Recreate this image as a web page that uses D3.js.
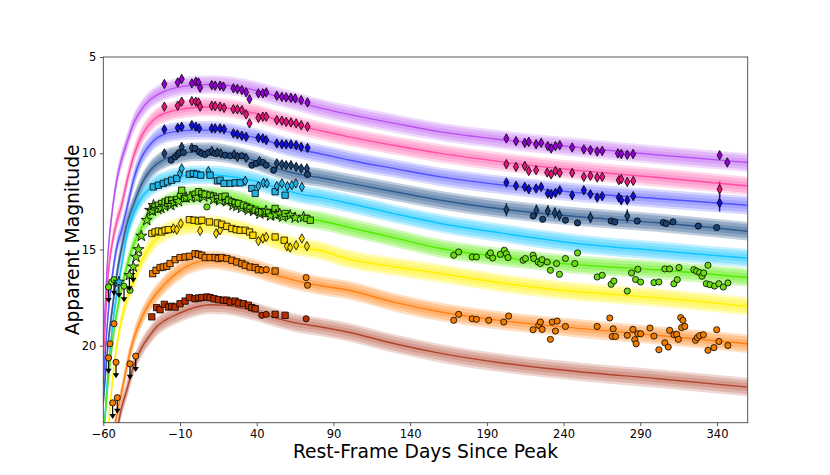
<!DOCTYPE html>
<html>
<head>
<meta charset="utf-8">
<script src="https://cdn.jsdelivr.net/npm/d3@7"></script>
<style>
  body { margin: 0; background: #fff; }
  text { font-family: "DejaVu Sans", sans-serif; }
</style>
</head>
<body>
<svg id="chart" width="830" height="475"></svg>
<script>
// model light curves, sampled on a shared grid of rest-frame days
const modelDays = [-60, -57, -54, -51, -48, -45, -40, -35, -30, -25, -20, -10, 0, 10, 20, 30, 40, 50, 60, 70, 80, 100, 130, 160, 200, 250, 300, 360];
const modelUVW2 = [20, 15.3, 12.9, 11.3, 10.3, 9.55, 8.4, 7.72, 7.25, 6.97, 6.77, 6.55, 6.46, 6.43, 6.47, 6.58, 6.75, 6.97, 7.18, 7.4, 7.62, 7.98, 8.45, 8.89, 9.3, 9.7, 10.08, 10.48];
const modelUVM2 = [21, 16.5, 14.6, 13.5, 12.7, 11.6, 10.1, 9.1, 8.5, 8.12, 7.93, 7.72, 7.62, 7.6, 7.65, 7.78, 7.95, 8.18, 8.4, 8.62, 8.8, 9.15, 9.6, 10.01, 10.45, 10.9, 11.25, 11.7];
const modelUVW1 = [22, 18.5, 16.3, 14.8, 14.0, 13.0, 11.3, 10.2, 9.6, 9.2, 9.0, 8.85, 8.8, 8.8, 8.88, 9.03, 9.2, 9.43, 9.65, 9.85, 10.0, 10.35, 10.8, 11.23, 11.65, 12.05, 12.35, 12.7];
const modelU = [23, 20, 18, 16.2, 14.9, 13.8, 12.6, 11.6, 10.95, 10.55, 10.3, 10.05, 9.92, 9.92, 10.02, 10.2, 10.42, 10.7, 10.95, 11.13, 11.25, 11.55, 12.0, 12.44, 12.9, 13.3, 13.6, 14.05];
const modelB = [25, 21.5, 19.0, 17.2, 15.8, 14.4, 13.1, 12.3, 11.85, 11.55, 11.4, 11.2, 11.12, 11.12, 11.18, 11.3, 11.47, 11.72, 11.95, 12.15, 12.27, 12.6, 13.15, 13.65, 14.15, 14.7, 15.05, 15.45];
const modelG = [25, 22, 19.8, 18.2, 17.0, 16.0, 14.7, 13.85, 13.3, 12.9, 12.65, 12.32, 12.2, 12.22, 12.3, 12.48, 12.73, 13.0, 13.22, 13.38, 13.48, 13.85, 14.4, 14.95, 15.4, 15.8, 16.05, 16.45];
const modelV = [28, 24.5, 21.8, 19.9, 18.6, 17.7, 16.6, 15.6, 14.9, 14.4, 14.1, 13.82, 13.72, 13.72, 13.8, 13.97, 14.2, 14.45, 14.72, 14.9, 15.03, 15.5, 15.9, 16.25, 16.75, 17.2, 17.5, 17.95];
const modelR = [30, 27, 25, 23.5, 22.4, 21.2, 19.6, 18.55, 17.8, 17.25, 16.8, 16.1, 15.68, 15.55, 15.62, 15.8, 16.0, 16.28, 16.5, 16.7, 16.86, 17.12, 17.75, 18.25, 18.7, 19.1, 19.45, 19.9];
const modelI = [33, 30, 27, 24.5, 23.2, 22.4, 21.0, 20.1, 19.5, 19.0, 18.7, 18.3, 18.0, 17.87, 17.9, 18.05, 18.25, 18.5, 18.72, 18.88, 19.0, 19.3, 19.9, 20.4, 20.9, 21.35, 21.7, 22.15];

// observations: [day, magnitude, source, error]
const obsUVW2 = [[-20.2,6.40,'swift'],[-11.5,6.32,'swift'],[-8.9,6.14,'swift'],[-2.3,6.37,'swift'],[0.3,6.28,'swift'],[2.0,6.32,'swift'],[3.1,6.6,'swift'],[10.7,6.46,'swift'],[12.9,6.49,'swift'],[16.1,6.49,'swift'],[18.3,6.54,'swift'],[24.8,6.63,'swift'],[27.4,6.66,'swift'],[30.3,6.72,'swift'],[33.1,6.84,'swift'],[35.3,7.19,'swift'],[41.1,6.89,'swift'],[44.0,6.89,'swift'],[46.2,6.84,'swift'],[53.1,7.01,'swift'],[56.4,7.07,'swift'],[59.2,7.10,'swift'],[62.3,7.12,'swift'],[65.1,7.15,'swift'],[69.0,7.24,'swift'],[73.1,7.36,'swift'],
  [202.7,9.23,'swift'],[209,9.37,'swift'],[214.7,9.46,'swift'],[217.3,9.41,'swift'],[222.1,9.53,'swift'],[225.4,9.46,'swift'],[229.7,9.63,'swift'],[231.9,9.75,'swift'],[234.7,9.63,'swift'],[237.5,9.58,'swift'],[245.6,9.70,'swift'],[253.2,9.80,'swift'],[257.5,9.84,'swift'],[261.9,9.91,'swift'],[265.2,9.88,'swift'],[275.4,10.01,'swift'],[277.6,10.04,'swift'],[281.5,10.08,'swift'],[285.3,10.04,'swift'],[341.7,10.10,'swift',0.12],[346.7,10.48,'swift',0.18]];
const obsUVM2 = [[-20.2,7.58,'swift'],[-11.5,7.53,'swift'],[-8.9,7.32,'swift'],[-2.3,7.29,'swift'],[0.3,7.32,'swift'],[2.0,7.36,'swift'],[3.1,7.58,'swift'],[10.7,7.53,'swift'],[12.9,7.55,'swift'],[16.1,7.58,'swift'],[18.7,7.64,'swift'],[24.8,7.71,'swift'],[27.4,7.72,'swift'],[30.3,7.76,'swift'],[33.1,7.98,'swift'],[35.3,8.45,'swift'],[41.1,8.16,'swift'],[44,8.10,'swift'],[46.2,8.10,'swift'],[53.1,8.28,'swift'],[56.4,8.31,'swift'],[59.2,8.37,'swift'],[62.3,8.40,'swift'],[65.7,8.45,'swift'],[69,8.54,'swift'],[73.1,8.62,'swift'],
  [202.7,10.57,'swift'],[209,10.71,'swift'],[214.7,10.66,'swift'],[217.3,10.92,'swift'],[222.1,10.88,'swift'],[229.3,11.0,'swift'],[231.9,11.1,'swift'],[234.7,10.92,'swift'],[237.5,11.02,'swift'],[245.6,11.02,'swift'],[253.2,11.23,'swift'],[257.5,11.17,'swift'],[261.9,11.26,'swift'],[265.2,11.23,'swift'],[276,11.4,'swift'],[277.6,11.35,'swift'],[281.5,11.49,'swift'],[285.4,11.44,'swift'],[341.7,11.87,'swift',0.4]];
const obsUVW1 = [[-20.2,8.76,'swift'],[-11.5,8.68,'swift'],[-8.9,8.62,'swift'],[-2.3,8.54,'swift'],[0.3,8.62,'swift'],[2.5,8.71,'swift'],[10.7,8.71,'swift'],[12.9,8.71,'swift'],[16.1,8.71,'swift'],[18.7,8.75,'swift'],[24.8,8.97,'swift'],[27.4,9.02,'swift'],[30.3,9.09,'swift'],[33.1,9.15,'swift'],[41.1,9.20,'swift'],[44,9.23,'swift'],[46.2,9.32,'swift'],[53.1,9.49,'swift'],[56.4,9.53,'swift'],[59.2,9.54,'swift'],[62.3,9.54,'swift'],[65.7,9.58,'swift'],[69,9.67,'swift'],[73.1,9.72,'swift'],
  [202.7,11.52,'swift'],[209,11.69,'swift'],[214.7,11.75,'swift'],[217.3,11.87,'swift'],[222.1,11.83,'swift'],[225.4,11.75,'swift'],[229.7,12.09,'swift',0.12],[231.9,12.13,'swift',0.12],[234.7,12.06,'swift',0.12],[237.5,11.92,'swift'],[245.6,12.18,'swift',0.15],[253.2,11.92,'swift'],[257.5,12.13,'swift',0.12],[261.9,12.30,'swift',0.15],[265.2,12.23,'swift',0.12],[276,12.30,'swift',0.12],[277.6,12.44,'swift',0.15],[281.5,12.44,'swift',0.15],[285.4,12.23,'swift',0.12],[341.7,12.58,'swift',0.45]];
const obsU = [[-20.2,10.01,'swift'],[-15.8,10.36,'ztf'],[-13.2,10.19,'ztf'],[-11.5,10.06,'ztf'],[-10.4,9.96,'ztf'],[-8.9,9.67,'swift'],[-7.8,9.96,'ztf'],[-2.3,9.72,'swift'],[-0.2,9.75,'ztf'],[2.5,9.93,'ztf'],[4.2,10.01,'ztf'],[6.4,10.06,'ztf'],[8.6,9.96,'ztf'],[10.7,9.89,'swift'],[12.9,10.01,'ztf'],[14.4,9.96,'swift'],[16.6,10.01,'swift'],[19.4,10.10,'ztf'],[22.7,10.13,'ztf'],[25.3,10.06,'swift'],[27.4,10.19,'swift'],[30.3,10.13,'ztf'],[33.1,10.24,'swift'],[36.8,10.62,'ztf'],[39.6,10.53,'ztf'],[41.8,10.41,'swift'],[44,10.48,'ztf'],[46.2,10.62,'ztf'],[51,10.88,'ztf'],[53.1,10.53,'swift'],[56.4,10.58,'swift'],[59.2,10.62,'swift'],[62.3,10.62,'swift'],[65.7,10.71,'swift'],[69,10.79,'swift'],[72.7,10.79,'swift'],[73.1,11.1,'ztf'],
  [202.7,12.93,'swift',0.35],[220.2,13.26,'ztf'],[222.3,12.96,'swift',0.3],[226.4,13.43,'ztf'],[229.7,13.0,'swift',0.3],[234.3,13.1,'swift',0.3],[237.3,13.22,'swift',0.3],[241.2,13.48,'ztf'],[249.1,13.62,'ztf'],[257.5,13.34,'swift',0.3],[271,13.52,'ztf'],[273.4,13.57,'ztf'],[281.5,13.26,'swift',0.35],[288,13.52,'ztf'],[305,13.6,'ztf'],[306.9,13.65,'ztf'],[311.3,13.57,'ztf'],[327.8,13.78,'ztf'],[339.8,13.86,'ztf']];
const obsB = [[-27.4,11.75,'lco'],[-24.1,11.66,'lco'],[-20.9,11.57,'lco'],[-18.2,11.49,'lco'],[-15.4,11.4,'lco'],[-12.1,11.31,'lco'],[-10,11.05,'swift'],[-8.9,10.79,'swift'],[-3.9,11.09,'lco'],[-1.3,11.05,'lco'],[0.9,11.09,'lco'],[3.5,11.14,'lco'],[8.5,10.93,'swift'],[9.6,11.14,'lco'],[14.4,11.44,'lco'],[16.1,11.4,'lco'],[18.7,11.57,'lco'],[22.7,11.57,'lco'],[25.9,11.54,'lco'],[29.2,11.54,'lco'],[32.5,11.44,'swift'],[36.8,11.83,'lco'],[39,12.09,'lco'],[41.1,11.71,'swift'],[44.4,11.54,'swift'],[46.6,11.57,'swift'],[52,12.0,'lco'],[53.1,11.71,'swift'],[56.4,11.57,'swift'],[58.5,12.18,'lco'],[60,11.71,'swift'],[62.9,11.66,'swift'],[65.5,11.57,'swift'],[69.4,11.75,'swift']];
const obsG = [[-54.5,16.69,'ztf'],[-42.6,17.12,'ztf'],[-38.6,15.39,'atlas'],[-37.1,15.0,'atlas'],[-35.2,14.3,'atlas'],[-31.7,13.48,'atlas'],[-29.5,12.96,'atlas'],[-28,13.0,'atlas'],[-27.3,12.7,'atlas'],
  [-26.3,12.79,'lco'],[-24.5,12.9,'atlas'],[-24.1,12.7,'lco'],[-22.5,12.85,'atlas'],[-21.9,12.61,'lco'],[-20,12.75,'atlas'],[-19.7,12.53,'lco'],[-18,12.6,'lco'],[-17.6,12.44,'lco'],[-16,12.7,'atlas'],[-15.4,12.44,'lco'],[-14,12.55,'atlas'],[-12.1,12.4,'lco'],[-11,12.5,'atlas'],[-10,12.18,'ztf'],[-8.9,11.92,'lco'],[-7,12.35,'lco'],[-6,12.3,'atlas'],[-3.4,12.27,'atlas'],[-0.2,12.13,'lco'],[1,12.3,'atlas'],[2,12.0,'lco'],[4.2,12.09,'lco'],[5.5,12.25,'atlas'],[6.4,12.13,'lco'],[7.5,12.79,'ztf'],[9.6,12.18,'lco'],[11.8,12.23,'lco'],[12,12.4,'atlas'],[14.4,12.35,'lco'],[16,12.45,'atlas'],[17.2,12.27,'lco'],[19.4,12.23,'lco'],[20.5,12.5,'atlas'],[21.6,12.44,'lco'],[23.8,12.53,'lco'],[24.5,12.7,'atlas'],[25.9,12.58,'lco'],[27,12.75,'atlas'],[28.1,12.61,'lco'],[30,12.85,'atlas'],[31.3,12.7,'lco'],[33.6,12.79,'lco'],[34.5,12.95,'atlas'],[35.7,12.87,'lco'],[38,13.0,'atlas'],[39,12.96,'lco'],[41.1,13.05,'lco'],[42,13.15,'atlas'],[43.3,13.05,'lco'],[45.5,13.13,'lco'],[46,13.0,'atlas'],[47.7,13.1,'lco'],[49,13.25,'atlas'],[52,12.87,'lco'],[52.5,13.2,'atlas'],[55,13.15,'atlas'],[57,13.3,'atlas'],[58.5,13.13,'lco'],[61.8,13.22,'atlas'],[65,13.35,'atlas'],[70.5,13.31,'atlas'],[72.7,13.39,'lco'],[74.9,13.48,'lco'],
  [168.4,15.3,'ztf'],[171.6,15.13,'ztf'],[180.4,15.39,'ztf'],[183.2,15.39,'ztf'],[191.2,15.3,'ztf'],[192.3,15.18,'ztf'],[193.8,15.44,'ztf'],[198.8,15.25,'ztf'],[201.4,15.04,'ztf'],[202.7,15.22,'ztf'],[203.8,15.42,'ztf'],[213.6,15.56,'ztf'],[215.1,15.47,'ztf'],[220.1,15.3,'ztf'],[220.6,15.47,'ztf'],[223.4,15.65,'ztf'],[224.9,15.73,'ztf'],[226,15.53,'ztf'],[229.3,15.65,'ztf'],[231.4,16.08,'ztf'],[235.4,15.73,'ztf'],[237.3,16.29,'ztf'],[241.2,15.47,'ztf'],[247.3,15.73,'ztf'],[249.1,15.18,'ztf'],[261.9,16.43,'ztf'],[265.2,16.34,'ztf'],[271,16.81,'ztf'],[272.8,16.64,'ztf'],[281.5,17.16,'ztf'],[284.3,16.22,'ztf'],[286.9,16.56,'ztf'],[288.4,16.03,'ztf'],[290.2,16.69,'ztf'],[298.9,16.72,'ztf'],[302.1,16.69,'ztf'],[306,16.01,'ztf'],[309.1,16.01,'ztf'],[311.9,16.78,'ztf'],[314.1,16.57,'ztf'],[315.2,15.94,'ztf'],[324.9,16.05,'ztf'],[326.7,16.13,'ztf'],[328.7,16.2,'ztf'],[330.2,16.39,'ztf'],[331.3,16.22,'ztf'],[333,16.78,'ztf'],[334.1,15.82,'ztf'],[335.4,16.83,'ztf'],[338.4,16.9,'ztf'],[341.2,16.78,'ztf'],[344.1,16.95,'ztf'],[347.1,16.74,'ztf']];
const obsV = [[-28.4,14.17,'lco'],[-26.3,14.09,'lco'],[-24.1,14.04,'lco'],[-21.9,14.09,'lco'],[-19.7,14.0,'lco'],[-17.6,13.97,'lco'],[-14.3,13.91,'swift'],[-12.1,13.97,'swift'],[-9.5,13.65,'swift'],[-3.9,13.45,'lco'],[-0.8,13.48,'lco'],[2,13.52,'lco'],[3.1,14.04,'swift'],[4.2,13.48,'lco'],[9.2,13.57,'lco'],[13.5,14.17,'swift'],[14.4,13.62,'lco'],[16.1,14.0,'swift'],[17.2,13.69,'lco'],[20.5,13.8,'lco'],[23.8,13.91,'lco'],[26.6,13.97,'lco'],[29.2,14.0,'lco'],[32.5,14.0,'lco'],[35.3,14.09,'lco'],[37.5,14.26,'lco'],[41.1,14.56,'swift'],[44,14.43,'swift'],[46.2,14.35,'swift'],[52,14.35,'lco'],[57.9,14.52,'lco'],[59.7,14.83,'swift'],[61.8,14.9,'swift'],[65.7,14.78,'swift'],[69.4,14.43,'swift'],[72.7,14.83,'swift']];
const obsR = [[-55.6,19.9,'ztf'],[-53,18.86,'ztf'],[-27.8,16.26,'lco'],[-25.6,16.08,'lco'],[-23,15.94,'lco'],[-20.9,15.91,'lco'],[-18.6,15.87,'lco'],[-16.5,15.73,'lco'],[-13.2,15.53,'lco'],[-10,15.42,'lco'],[-6.7,15.39,'lco'],[-3.9,15.35,'lco'],[-0.2,15.22,'lco'],[2,15.25,'lco'],[4.2,15.3,'lco'],[6.4,15.42,'lco'],[9.6,15.42,'lco'],[12.9,15.42,'lco'],[15,15.47,'lco'],[17.2,15.42,'lco'],[20.5,15.47,'lco'],[23.8,15.56,'lco'],[27,15.65,'lco'],[30.3,15.73,'lco'],[32.5,15.82,'lco'],[35.7,15.91,'lco'],[39,15.94,'lco'],[41.1,16.05,'lco'],[43.3,16.08,'ztf'],[46.2,16.05,'ztf'],[52,16.12,'lco'],[72.2,16.46,'ztf'],[73.1,16.86,'ztf'],
  [168.4,18.68,'ztf'],[171.6,18.37,'ztf'],[180.4,18.6,'ztf'],[183.2,18.63,'ztf'],[191.2,18.68,'ztf'],[201,18.77,'ztf'],[204.2,18.46,'ztf'],[220.1,19.17,'ztf'],[223.8,18.94,'ztf'],[224.9,18.77,'ztf'],[226,19.15,'ztf'],[231.4,19.67,'ztf'],[232.6,18.77,'ztf'],[234.7,19.24,'ztf'],[235.8,18.72,'ztf'],[241.2,19.0,'ztf'],[261.9,19.0,'ztf'],[270.1,18.56,'ztf'],[272.3,19.12,'ztf'],[271.7,19.52,'ztf'],[273.9,19.52,'ztf'],[281.5,19.46,'ztf'],[285.2,19.15,'ztf'],[286.4,19.69,'ztf'],[287.3,19.9,'ztf'],[288.4,19.38,'ztf'],[290.2,19.38,'ztf'],[296.3,19.08,'ztf'],[298.9,19.5,'ztf'],[302.1,20.21,'ztf'],[306,19.85,'ztf'],[308.2,20.07,'ztf'],[309.1,19.2,'ztf'],[311.9,19.43,'ztf'],[313.7,19.41,'ztf'],[314.8,19.67,'ztf'],[316.3,18.54,'ztf'],[317.8,18.68,'ztf'],[316.9,19.06,'ztf'],[319,19.0,'ztf'],[326,19.72,'ztf'],[327.2,19.58,'ztf'],[328.7,19.48,'ztf'],[331.1,19.43,'ztf'],[334.1,20.24,'ztf'],[338,20.1,'ztf'],[339.8,19.17,'ztf'],[341.2,19.78,'ztf'],[347.1,19.99,'ztf']];
const obsI = [[-28.4,18.5,'lco'],[-25.2,18.02,'lco'],[-23,18.13,'lco'],[-20.2,17.85,'lco'],[-17.6,17.99,'lco'],[-15.4,17.95,'lco'],[-13.2,17.99,'lco'],[-10,17.82,'lco'],[-6.7,17.68,'lco'],[-3.9,17.5,'lco'],[-0.2,17.56,'lco'],[2,17.52,'lco'],[4.2,17.5,'lco'],[7.5,17.47,'lco'],[9.6,17.5,'lco'],[12.2,17.56,'lco'],[15,17.61,'lco'],[18.3,17.64,'lco'],[20.5,17.64,'lco'],[22.7,17.73,'lco'],[25.9,17.68,'lco'],[28.1,17.78,'lco'],[31.3,17.82,'lco'],[34.6,17.9,'lco'],[36.8,18.02,'lco'],[39,18.08,'lco'],[43.3,18.42,'ztf'],[46.2,18.37,'ztf'],[52,18.37,'lco'],[58.5,18.42,'lco'],[72.2,18.6,'ztf']];

// non-detections: [band, day, limiting magnitude, source]
const upperLimits = [['g',-56.6,16.95,'ztf'],['g',-53,16.57,'ztf'],['B',-49.8,16.69,'atlas'],['g',-46.5,16.91,'ztf'],['g',-43,16.34,'atlas'],['g',-40.5,15.9,'atlas'],
  ['r',-56.6,20.63,'ztf'],['r',-51.7,20.86,'ztf'],['r',-42.6,20.94,'ztf'],['r',-38.9,20.54,'ztf'],['r',-53.9,22.97,'ztf'],['r',-50.9,22.7,'ztf']];

const xTicks = [-60, -10, 40, 90, 140, 190, 240, 290, 340];
const yTicks = [5, 10, 15, 20];

const bands = [
  { name: 'UVW2', model: modelUVW2, obs: obsUVW2, line: '#b850f2', dot: '#9400d3', shade: 1 },
  { name: 'UVM2', model: modelUVM2, obs: obsUVM2, line: '#ff4fa3', dot: '#e5147c', shade: 1 },
  { name: 'UVW1', model: modelUVW1, obs: obsUVW1, line: '#5252ff', dot: '#1010d8', shade: 1 },
  { name: 'U',    model: modelU,    obs: obsU,    line: '#2e5b8f', dot: '#1b4274', shade: 1.35 },
  { name: 'B',    model: modelB,    obs: obsB,    line: '#10c4ff', dot: '#20b4e6', shade: 1.15 },
  { name: 'g',    model: modelG,    obs: obsG,    line: '#52ec00', dot: '#6cdc14', shade: 1.15 },
  { name: 'V',    model: modelV,    obs: obsV,    line: '#fff200', dot: '#ffd800', shade: 1.15 },
  { name: 'r',    model: modelR,    obs: obsR,    line: '#ff8014', dot: '#f07d00', shade: 1.15 },
  { name: 'i',    model: modelI,    obs: obsI,    line: '#b0452e', dot: '#b83000', shade: 1 }
];
const bandByName = Object.fromEntries(bands.map(b => [b.name, b]));

const margin = { left: 103.3, right: 82.3, top: 57, bottom: 52.3 };
const width = 830, height = 475;

const svg = d3.select('#chart');
const x = d3.scaleLinear().domain([-60, 360]).range([margin.left, width - margin.right]);
const y = d3.scaleLinear().domain([5, 24]).range([margin.top, height - margin.bottom]);

svg.append('defs').append('clipPath').attr('id', 'plot-clip')
  .append('rect')
  .attr('x', margin.left).attr('y', margin.top)
  .attr('width', width - margin.left - margin.right)
  .attr('height', height - margin.top - margin.bottom);

const plot = svg.append('g').attr('clip-path', 'url(#plot-clip)');

// shaded model envelopes + median line
const bandLayers = [{ half: 0.48, op: 0.22 }, { half: 0.36, op: 0.24 }, { half: 0.2, op: 0.22 }];
bands.forEach(b => {
  const pts = modelDays.map((d, i) => ({ d, m: b.model[i] }));
  const g = plot.append('g');
  bandLayers.forEach(l => {
    g.append('path')
      .datum(pts)
      .attr('d', d3.area().curve(d3.curveMonotoneX)
        .x(p => x(p.d)).y0(p => y(p.m + l.half)).y1(p => y(p.m - l.half)))
      .attr('fill', b.line)
      .attr('fill-opacity', Math.min(0.9, l.op * b.shade));
  });
  g.append('path')
    .datum(pts)
    .attr('d', d3.line().curve(d3.curveMonotoneX).x(p => x(p.d)).y(p => y(p.m)))
    .attr('fill', 'none')
    .attr('stroke', b.line)
    .attr('stroke-width', 1.4);
});

// marker shapes per data source
const symbols = {
  swift: 'M0,-4.7L2.6,0L0,4.7L-2.6,0Z',
  lco: d3.symbol(d3.symbolSquare, 40)(),
  ztf: d3.symbol(d3.symbolCircle, 30)(),
  atlas: d3.symbol(d3.symbolStar, 38)()
};

const pointLayer = plot.append('g');
bands.forEach(b => {
  const g = pointLayer.append('g');
  b.obs.filter(o => o[3]).forEach(o => {
    g.append('line')
      .attr('x1', x(o[0])).attr('x2', x(o[0]))
      .attr('y1', y(o[1] - o[3])).attr('y2', y(o[1] + o[3]))
      .attr('stroke', b.dot).attr('stroke-width', 1.5);
  });
  g.selectAll('path')
    .data(b.obs)
    .enter().append('path')
    .attr('d', o => symbols[o[2]])
    .attr('transform', o => `translate(${x(o[0])},${y(o[1])})`)
    .attr('fill', b.dot)
    .attr('stroke', '#000')
    .attr('stroke-width', 0.8);
});

// upper limits: marker with a downward arrow
const limG = pointLayer.append('g');
upperLimits.forEach(([band, d, m, src]) => {
  const px = x(d), py = y(m);
  limG.append('line')
    .attr('x1', px).attr('x2', px).attr('y1', py).attr('y2', py + 13)
    .attr('stroke', '#000').attr('stroke-width', 1.2);
  limG.append('path')
    .attr('d', `M${px - 3.2},${py + 11}L${px + 3.2},${py + 11}L${px},${py + 16}Z`)
    .attr('fill', '#000');
  limG.append('path')
    .attr('d', symbols[src])
    .attr('transform', `translate(${px},${py})`)
    .attr('fill', bandByName[band].dot)
    .attr('stroke', '#000').attr('stroke-width', 0.8);
});

// axes
const xAxis = svg.append('g')
  .attr('transform', `translate(0,${height - margin.bottom})`)
  .call(d3.axisBottom(x).tickValues(xTicks).tickSize(3.5).tickPadding(3.5).tickSizeOuter(0));
const yAxis = svg.append('g')
  .attr('transform', `translate(${margin.left},0)`)
  .call(d3.axisLeft(y).tickValues(yTicks).tickSize(3.5).tickPadding(3.5).tickSizeOuter(0));
[xAxis, yAxis].forEach(a => {
  a.select('.domain').remove();
  a.selectAll('text').attr('font-size', 11.5).attr('fill', '#000').attr('font-family', '"DejaVu Sans", sans-serif');
  a.selectAll('line').attr('stroke', '#333').attr('stroke-width', 0.8);
});

svg.append('rect')
  .attr('x', margin.left).attr('y', margin.top)
  .attr('width', width - margin.left - margin.right)
  .attr('height', height - margin.top - margin.bottom)
  .attr('fill', 'none').attr('stroke', '#444').attr('stroke-width', 0.9);

svg.append('text')
  .attr('x', (margin.left + width - margin.right) / 2)
  .attr('y', 458)
  .attr('text-anchor', 'middle')
  .attr('font-size', 18.7)
  .text('Rest-Frame Days Since Peak');

svg.append('text')
  .attr('transform', `translate(79,${(margin.top + height - margin.bottom) / 2}) rotate(-90)`)
  .attr('text-anchor', 'middle')
  .attr('font-size', 18.7)
  .text('Apparent Magnitude');
</script>
</body>
</html>
